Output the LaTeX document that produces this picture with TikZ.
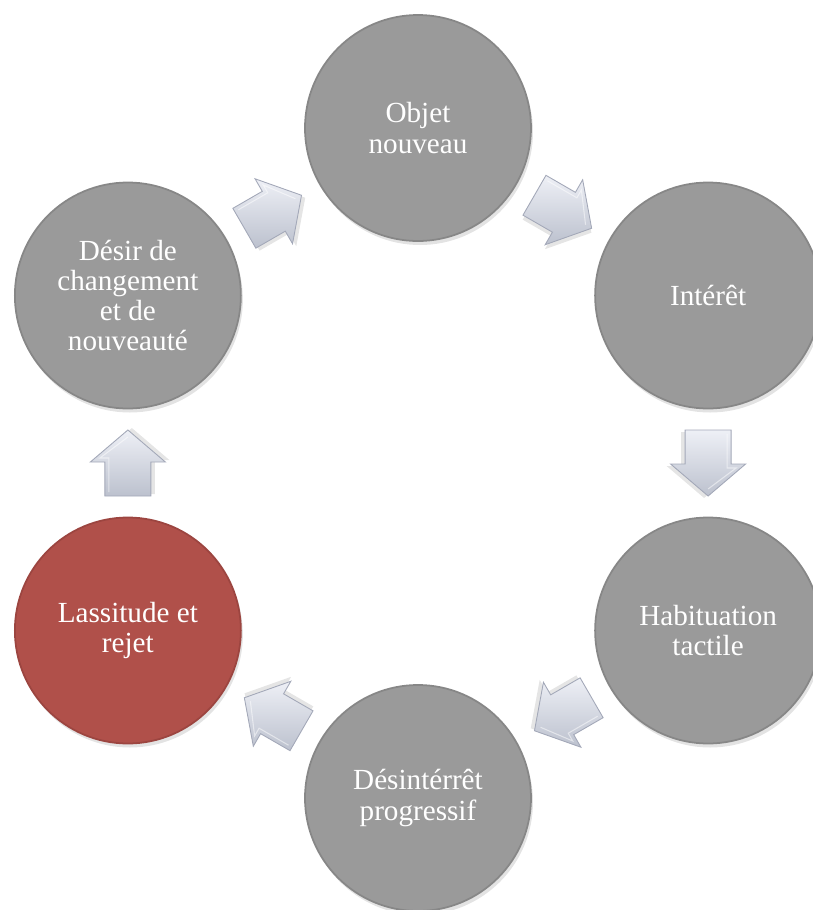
\documentclass[tikz,border=0pt]{standalone}
\usepackage{fontspec}
\setmainfont{Liberation Serif}
\usetikzlibrary{calc}
\usetikzlibrary{shadows}

\definecolor{stepgray}{HTML}{9A9A9A}
\definecolor{steprim}{HTML}{878787}
\definecolor{stepred}{HTML}{B0504A}
\definecolor{stepredrim}{HTML}{9C4540}
\definecolor{arrowlight}{HTML}{EEF0F6}
\definecolor{arrowdark}{HTML}{BCC1CE}
\definecolor{arrowedge}{HTML}{A3A8B8}

% block arrow half way between two steps
\newcommand{\cyclearrow}[3]{%
  \begin{scope}[shift={($(#1)!0.5!(#2)$)},rotate=#3]
    \fill[black,opacity=0.10,shift={(0.04,-0.08)}]
      (-0.66,-0.46) -- (0.02,-0.46) -- (0.02,-0.75) -- (0.66,0)
      -- (0.02,0.75) -- (0.02,0.46) -- (-0.66,0.46) -- cycle;
    \shadedraw[top color=arrowlight,bottom color=arrowdark,draw=arrowedge,line width=0.5pt]
      (-0.66,-0.46) -- (0.02,-0.46) -- (0.02,-0.75) -- (0.66,0)
      -- (0.02,0.75) -- (0.02,0.46) -- (-0.66,0.46) -- cycle;
    \draw[white,opacity=0.5,line width=0.6pt]
      (-0.58,0.38) -- (0.10,0.38) -- (0.10,0.56) -- (0.52,0);
  \end{scope}}

\begin{document}
\begin{tikzpicture}[every node/.style={circle,minimum size=4.52cm,inner sep=0pt,text=white,align=center,
    font=\fontsize{16.6}{17.2}\selectfont,line width=1pt,
    drop shadow={shadow xshift=0.04cm,shadow yshift=-0.08cm,opacity=0.22}},
  greystep/.style={fill=stepgray,draw=steprim},
  redstep/.style={fill=stepred,draw=stepredrim}]
  \useasboundingbox (-8.36,-8.94) rectangle (7.90,9.26);
  \clip (-8.36,-8.94) rectangle (7.90,9.26);

  \node[greystep] (objet) at (90:6.7) {Objet\\nouveau};
  \node[greystep] (interet) at (30:6.7) {Intérêt};
  \node[greystep] (habituation) at (-30:6.7) {Habituation\\tactile};
  \node[greystep] (desinteret) at (-90:6.7) {Désintérrêt\\progressif};
  \node[redstep] (lassitude) at (-150:6.7) {Lassitude et\\rejet};
  \node[greystep] (desir) at (150:6.7) {Désir de\\changement\\et de\\nouveauté};

  \cyclearrow{desir}{objet}{30}
  \cyclearrow{objet}{interet}{-30}
  \cyclearrow{interet}{habituation}{-90}
  \cyclearrow{habituation}{desinteret}{-150}
  \cyclearrow{desinteret}{lassitude}{150}
  \cyclearrow{lassitude}{desir}{90}
\end{tikzpicture}
\end{document}
